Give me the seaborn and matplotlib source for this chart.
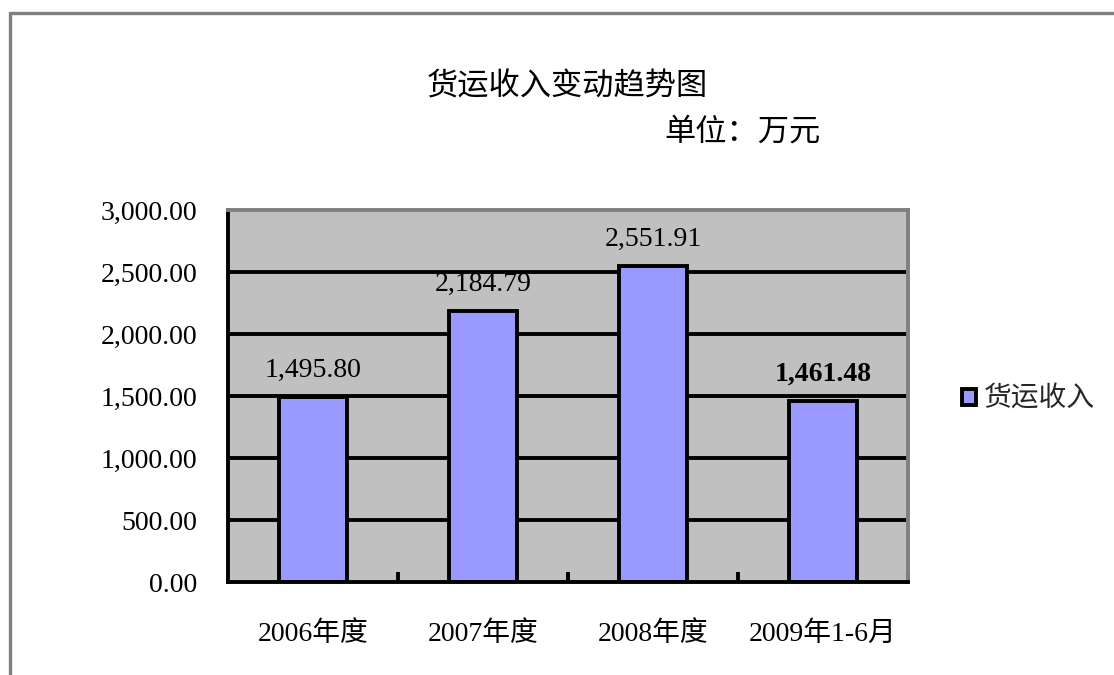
import matplotlib
matplotlib.use("Agg")
import matplotlib.pyplot as plt
from matplotlib.patches import Patch
from matplotlib.lines import Line2D
import seaborn as sns
import pandas as pd

# data
categories = ["2006年度", "2007年度", "2008年度", "2009年1-6月"]
revenue = [1495.80, 2184.79, 2551.91, 1461.48]
y_ticks = [0, 500, 1000, 1500, 2000, 2500, 3000]
series_name = "货运收入"

df = pd.DataFrame({"period": categories, "revenue": revenue})

sns.set_theme(style="white")
plt.rcParams["font.family"] = ["Liberation Serif", "Noto Sans CJK SC"]
plt.rcParams["axes.unicode_minus"] = False

bar_color = "#9999FF"
W, H, DPI = 1114, 675, 100

fig = plt.figure(figsize=(W / DPI, H / DPI), dpi=DPI)
fig.patch.set_facecolor("white")
ax = fig.add_axes([228 / W, 1 - 582 / H, (908 - 228) / W, (582 - 210) / H])
ax.set_facecolor("#C0C0C0")

sns.barplot(data=df, x="period", y="revenue", color=bar_color, width=0.4,
            edgecolor="black", linewidth=2.8, saturation=1, ax=ax, zorder=3)

ax.set_xlim(-0.5, len(categories) - 0.5)
ax.set_ylim(0, 3000)
ax.set_yticks(y_ticks)
ax.set_yticklabels([f"{v:,.2f}" for v in y_ticks], fontsize=20)
ax.set_xticks(range(len(categories)))
ax.set_xticklabels(categories, fontsize=20)
ax.set_xlabel("")
ax.set_ylabel("")

# horizontal black gridlines
for v in y_ticks[1:-1]:
    ax.axhline(v, color="black", linewidth=2.8, zorder=1)

ax.tick_params(axis="y", length=0, pad=22, colors="black")
ax.tick_params(axis="x", which="major", length=0, pad=28, colors="black")
ax.set_xticks([i + 0.5 for i in range(len(categories))], minor=True)
ax.tick_params(axis="x", which="minor", bottom=True, direction="in", length=7,
               width=2.8, color="black")

for side in ["left", "bottom"]:
    ax.spines[side].set_color("black")
    ax.spines[side].set_linewidth(2.8)
for side in ["top", "right"]:
    ax.spines[side].set_color("#808080")
    ax.spines[side].set_linewidth(2.8)
for sp in ax.spines.values():
    sp.set_zorder(4)

labels = ax.bar_label(ax.containers[0], labels=[f"{v:,.2f}" for v in revenue],
                      padding=10, fontsize=20, color="black")
labels[-1].set_fontweight("bold")

# title and unit
fig.text(567 / W, 1 - 88 / H, "货运收入变动趋势图", ha="center", va="center",
         fontsize=22.5, color="black")
fig.text(742 / W, 1 - 133 / H, "单位：万元", ha="center", va="center",
         fontsize=22.5, color="black")

# legend
handle = Patch(facecolor=bar_color, edgecolor="black", linewidth=2.8)
fig.legend(handles=[handle], labels=[series_name], loc="center left",
           bbox_to_anchor=(962 / W, 1 - 400 / H), frameon=False, fontsize=20,
           handlelength=0.5, handleheight=0.5, handletextpad=0.3,
           borderaxespad=0, borderpad=0)

# outer chart border (left and top edges visible)
fig.add_artist(Line2D([9.5 / W, 9.5 / W], [0, 1 - 13 / H], transform=fig.transFigure,
                      color="#808080", linewidth=2.4))
fig.add_artist(Line2D([9.5 / W, 1], [1 - 13 / H, 1 - 13 / H], transform=fig.transFigure,
                      color="#808080", linewidth=2.4))

fig.savefig("out.png", dpi=DPI)
